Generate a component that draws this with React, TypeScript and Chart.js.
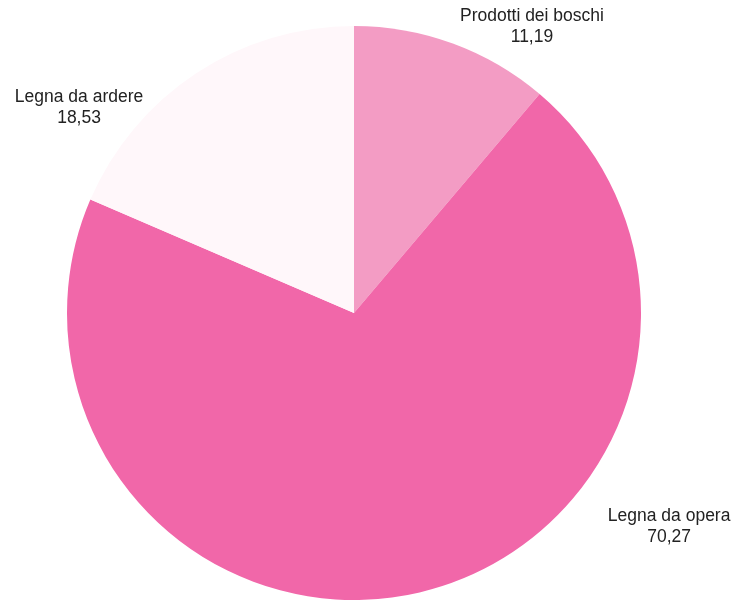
import React, { useEffect, useRef } from "react";
import { Chart, registerables } from "chart.js";

Chart.register(...registerables);

const categories = ["Prodotti dei boschi", "Legna da opera", "Legna da ardere"];
const values = [11.19, 70.27, 18.53];
const valueLabels = ["11,19", "70,27", "18,53"];
const colors = ["#F39CC4", "#F167A9", "#FFF7FA"];
// label anchor offsets relative to the pie centre, in units of the pie radius
const labelOffsets = [
  [0.62, -0.998],
  [1.098, 0.743],
  [-0.958, -0.717],
];

const outsideLabels = {
  id: "outsideLabels",
  afterDraw(chart: any) {
    const ctx = chart.ctx;
    const meta = chart.getDatasetMeta(0);
    ctx.save();
    ctx.font = "17.5px 'Liberation Sans', Arial, sans-serif";
    ctx.fillStyle = "#222222";
    ctx.textAlign = "center";
    ctx.textBaseline = "middle";
    meta.data.forEach((arc: any, i: number) => {
      const r = arc.outerRadius;
      const x = arc.x + labelOffsets[i][0] * r;
      const y = arc.y + labelOffsets[i][1] * r;
      ctx.fillText(categories[i], x, y - 10.5);
      ctx.fillText(valueLabels[i], x, y + 10.5);
    });
    ctx.restore();
  },
};

export default function App() {
  const ref = useRef<HTMLCanvasElement>(null);
  useEffect(() => {
    const chart = new Chart(ref.current!, {
      type: "pie",
      data: {
        labels: categories,
        datasets: [
          {
            data: values,
            backgroundColor: colors,
            borderWidth: 0,
          },
        ],
      },
      options: {
        animation: false,
        responsive: false,
        maintainAspectRatio: false,
        layout: { padding: { left: 67, right: 93, top: 26, bottom: 2 } },
        plugins: {
          legend: { display: false },
          tooltip: { enabled: false },
        },
      },
      plugins: [outsideLabels],
    });
    return () => chart.destroy();
  }, []);
  return (
    <div style={{ position: "fixed", left: 0, top: 0, width: 734, height: 602, background: "#fff" }}>
      <canvas ref={ref} width={734} height={602} />
    </div>
  );
}
